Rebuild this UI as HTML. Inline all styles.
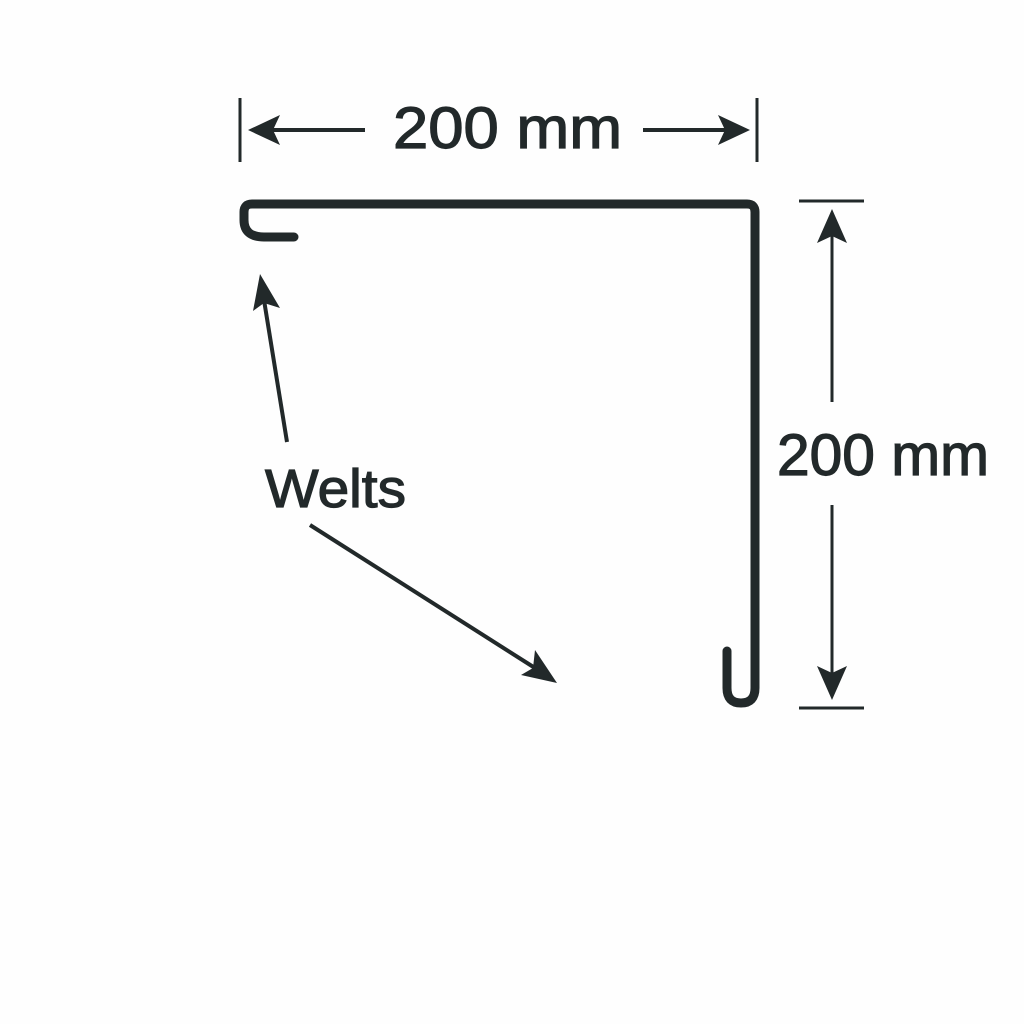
<!DOCTYPE html>
<html><head><style>html,body{margin:0;padding:0;background:#fff}svg{display:block}</style></head>
<body>
<svg width="1024" height="1024" viewBox="0 0 1024 1024" xmlns="http://www.w3.org/2000/svg">
<rect width="1024" height="1024" fill="#fefefe"/>
<g stroke="#22292a" fill="none" stroke-linecap="round" stroke-linejoin="round">
<path d="M294 237 L264 237 Q244 237 244 220 L244 212 Q244 204 252 204 L747 204 Q755 204 755 212 L755 688 Q755 703 741 703 Q727 703 727 688 L727 651" stroke-width="9"/>
</g>
<g stroke="#22292a" stroke-width="3" fill="none">
<line x1="240" y1="98" x2="240" y2="162"/>
<line x1="757" y1="98" x2="757" y2="162"/>
<line x1="270" y1="130" x2="365" y2="130" stroke-width="4"/>
<line x1="643" y1="130" x2="730" y2="130" stroke-width="4"/>
<line x1="799" y1="201" x2="864" y2="201"/>
<line x1="799" y1="708" x2="864" y2="708"/>
<line x1="832" y1="235" x2="832" y2="402"/>
<line x1="832" y1="505" x2="832" y2="675"/>
<line x1="287" y1="442" x2="264" y2="300" stroke-width="4"/>
<line x1="310" y1="525" x2="535" y2="668" stroke-width="4"/>
</g>
<g fill="#22292a">
<polygon points="248,130 280,115 273,130 280,145"/>
<polygon points="750,130 718,115 725,130 718,145"/>
<polygon points="832,209 817,243 832,236 847,243"/>
<polygon points="832,700 817,666 832,673 847,666"/>
<polygon points="260,274 253,311 264,303 280,308"/>
<polygon points="557,683 521,675 533,668 535,650"/>
</g>
<g fill="#22292a" stroke="#22292a" stroke-width="1.2" font-family="Liberation Sans, sans-serif">
<text x="393" y="148" font-size="58" textLength="229" lengthAdjust="spacingAndGlyphs">200 mm</text>
<text x="777" y="475" font-size="58" textLength="212" lengthAdjust="spacingAndGlyphs">200 mm</text>
<text x="265" y="507" font-size="54" textLength="141" lengthAdjust="spacingAndGlyphs">Welts</text>
</g>
</svg>
</body></html>
